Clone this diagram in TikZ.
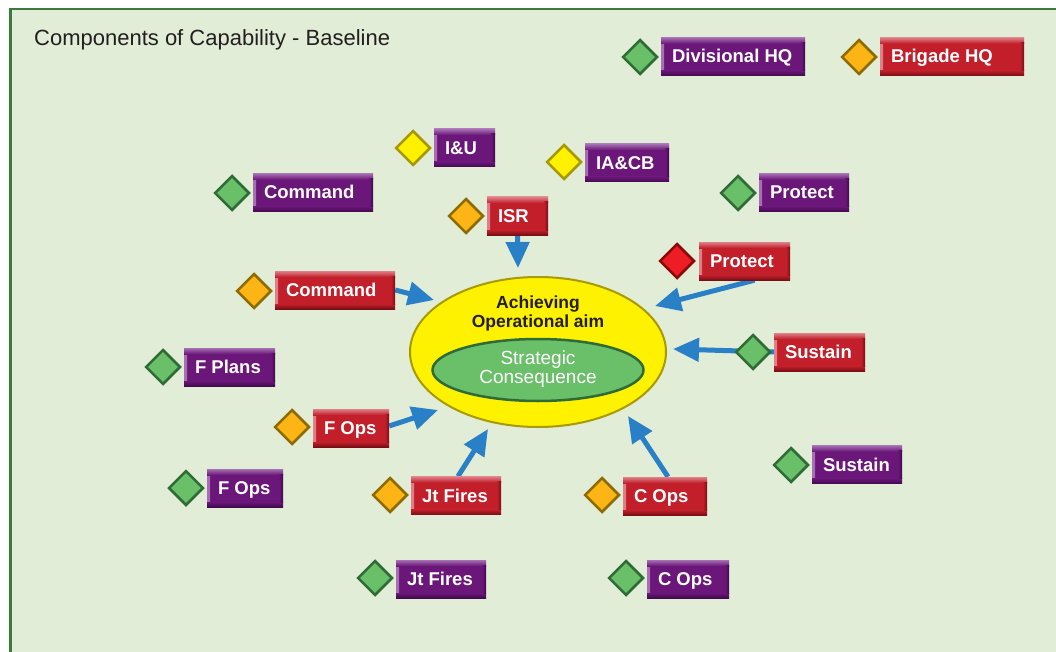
\documentclass[tikz,border=0pt]{standalone}
\usepackage{fontspec}
\setmainfont{Liberation Sans}
\usetikzlibrary{shapes.geometric,arrows.meta,calc}
\definecolor{bg}{HTML}{E1EDD6}
\definecolor{frameg}{HTML}{3C7A3C}
\definecolor{purp}{HTML}{6B1679}
\definecolor{purpl}{HTML}{A670B2}
\definecolor{purpd}{HTML}{420A4D}
\definecolor{redb}{HTML}{C21F2A}
\definecolor{redl}{HTML}{DE8088}
\definecolor{redd}{HTML}{7A0E15}
\definecolor{dgreen}{HTML}{6ABF69}
\definecolor{dgreenb}{HTML}{2E6B35}
\definecolor{dorange}{HTML}{FDB515}
\definecolor{dorangeb}{HTML}{8E6B00}
\definecolor{dyellow}{HTML}{FFF100}
\definecolor{dyellowb}{HTML}{A89800}
\definecolor{dred}{HTML}{EE1C25}
\definecolor{dredb}{HTML}{8A0A0A}
\definecolor{arrowblue}{HTML}{2A80C6}
\definecolor{ellyellow}{HTML}{FFF200}
\definecolor{ellyb}{HTML}{A89A00}
\definecolor{ellg}{HTML}{6ABF69}
\definecolor{ellgb}{HTML}{2F6B38}
\definecolor{titlec}{HTML}{231F20}
\pgfdeclarelayer{back}
\pgfdeclarelayer{mid}
\pgfsetlayers{back,mid,main}
\tikzset{
  bevelbox/.style n args={3}{rectangle, minimum height=38pt, inner ysep=0pt, inner xsep=11pt,
    text height=13pt, text depth=0pt, align=flush left,
    text=white, font=\bfseries\fontsize{18.5}{20}\selectfont, fill=#1,
    path picture={
      \fill[left color=#2, right color=#1] (path picture bounding box.north west) rectangle ([xshift=3pt]path picture bounding box.south west);
      \fill[top color=#2, bottom color=#1] (path picture bounding box.north west) rectangle ([yshift=-6pt]path picture bounding box.north east);
      \fill[top color=#1, bottom color=#3] ([yshift=5pt]path picture bounding box.south west) rectangle (path picture bounding box.south east);
      \fill[left color=#1, right color=#3] ([xshift=-4pt,yshift=-5pt]path picture bounding box.north east) rectangle ([yshift=5pt]path picture bounding box.south east);
    }},
  pbox/.style={bevelbox={purp}{purpl}{purpd}, text width=#1},
  rbox/.style={bevelbox={redb}{redl}{redd}, text width=#1},
  dia/.style n args={2}{diamond, aspect=1, minimum width=35pt, minimum height=35pt,
    inner sep=0pt, fill=#1, draw=#2, line width=2.5pt},
  gdia/.style={dia={dgreen}{dgreenb}},
  odia/.style={dia={dorange}{dorangeb}},
  ydia/.style={dia={dyellow}{dyellowb}},
  rdia/.style={dia={dred}{dredb}},
  arr/.style={draw=arrowblue, line width=5pt, -{Triangle[length=26pt,width=23pt]}},
}
\begin{document}
\begin{tikzpicture}[x=1pt,y=-1pt]
\useasboundingbox (0,0) rectangle (1056,652);
\clip (0,0) rectangle (1056,652);
\begin{pgfonlayer}{back}
\draw[frameg, line width=2.5pt, fill=bg] (10.5,9.2) rectangle (1080,680);
\end{pgfonlayer}

\node[anchor=base west, inner sep=0pt, font=\fontsize{22}{24}\selectfont, text=titlec] (title) at (34,46) {Components of Capability - Baseline};

% central ellipses
\begin{pgfonlayer}{back}
\node[ellipse, minimum width=256pt, minimum height=150pt, fill=ellyellow, draw=ellyb, line width=2pt] (outer) at (538,352) {};
\node[ellipse, minimum width=211pt, minimum height=62pt, fill=ellg, draw=ellgb, line width=2.5pt] (inner) at (538,370) {};
\end{pgfonlayer}
\node[align=center, inner sep=0pt, text=titlec, font=\bfseries\fontsize{17.5}{19}\selectfont] (aim) at (538,313) {Achieving\\Operational aim};
\node[align=center, inner sep=0pt, text=white, font=\fontsize{19}{19}\selectfont] (strat) at (538,369) {Strategic\\Consequence};

% diamonds
\node[gdia] (d1) at (640,57) {};
\node[odia] (d2) at (859,57) {};
\node[ydia] (d3) at (413,148) {};
\node[ydia] (d4) at (564,162) {};
\node[gdia] (d5) at (232,193) {};
\node[gdia] (d6) at (738,193) {};
\node[odia] (d7) at (466,216) {};
\node[rdia] (d8) at (677,261) {};
\node[odia] (d9) at (254,291) {};
\node[gdia] (d10) at (163,367) {};
\node[gdia] (d11) at (753,352) {};
\node[odia] (d12) at (292,427) {};
\node[gdia] (d13) at (791,465) {};
\node[gdia] (d14) at (186,488) {};
\node[odia] (d15) at (390,495) {};
\node[odia] (d16) at (602,495) {};
\node[gdia] (d17) at (375,578) {};
\node[gdia] (d18) at (626,578) {};

% boxes (text width = box width - 22pt)
\node[pbox=122pt] (b1) at (733,56.5) {Divisional HQ};
\node[rbox=122pt] (b2) at (952,56.5) {Brigade HQ};
\node[pbox=39pt] (b3) at (464.5,148) {I\&U};
\node[pbox=62pt] (b4) at (627,163) {IA\&CB};
\node[pbox=98pt] (b5) at (313,192.5) {Command};
\node[pbox=68pt] (b6) at (804,192.5) {Protect};
\node[rbox=39pt] (b7) at (517.5,216) {ISR};
\node[rbox=69pt] (b8) at (744.5,261) {Protect};
\node[rbox=98pt] (b9) at (335,290) {Command};
\node[pbox=69pt] (b10) at (229.5,367) {F Plans};
\node[rbox=69pt] (b11) at (819.5,352) {Sustain};
\node[rbox=54pt] (b12) at (351,428) {F Ops};
\node[pbox=68pt] (b13) at (857,464.5) {Sustain};
\node[pbox=54pt] (b14) at (245,488) {F Ops};
\node[rbox=68pt] (b15) at (456,495.5) {Jt Fires};
\node[rbox=62pt] (b16) at (665,496) {C Ops};
\node[pbox=68pt] (b17) at (441,579) {Jt Fires};
\node[pbox=60pt] (b18) at (688,579) {C Ops};

% arrow tips
\coordinate (tISR) at (518,268);
\coordinate (tCmd) at (434,300);
\coordinate (tProt) at (655,306);
\coordinate (tSus) at (673,349);
\coordinate (tFOps) at (438,410);
\coordinate (tJtF) at (488,429);
\coordinate (tCOps) at (628,416);

\begin{pgfonlayer}{mid}
\draw[arr] (b7.south) -- (tISR);
\draw[arr] (b9.east) -- (tCmd);
\draw[arr] ([xshift=10pt]b8.south) -- (tProt);
\draw[arr] (b11.west) -- (tSus);
\draw[arr] ([yshift=2pt]b12.east) -- (tFOps);
\draw[arr] ([xshift=2pt]b15.north) -- (tJtF);
\draw[arr] ([xshift=3pt]b16.north) -- (tCOps);
\end{pgfonlayer}
\end{tikzpicture}
\end{document}
